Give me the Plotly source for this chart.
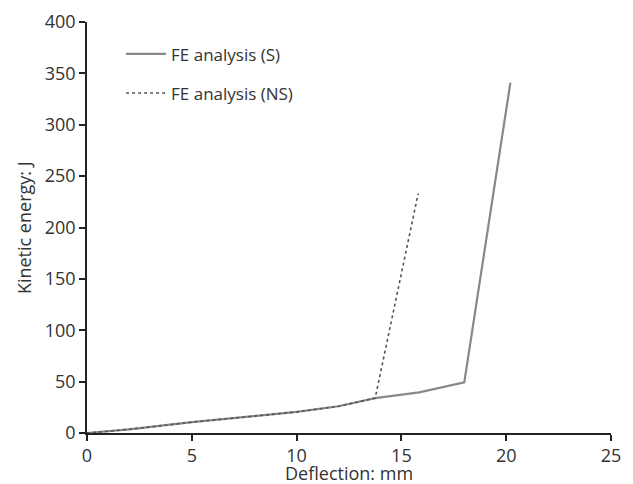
import plotly.graph_objects as go

s_x = [0, 2, 5, 10, 12, 13.75, 15.85, 18.0, 20.2]
s_y = [0, 3.5, 10.5, 20.5, 26, 34, 39.5, 49.3, 341]
ns_x = [0, 2, 5, 10, 12, 13.75, 15.8]
ns_y = [0, 3.5, 10.5, 20.5, 26, 34, 233]

x_ticks = [0, 5, 10, 15, 20, 25]
y_ticks = [0, 50, 100, 150, 200, 250, 300, 350, 400]

x_title = "Deflection: mm"
y_title = "Kinetic energy: J"

fig = go.Figure()
fig.add_trace(go.Scatter(x=s_x, y=s_y, mode="lines", name="FE analysis (S)",
                         line=dict(color="#888888", width=2.2),
                         legendgroup="a"))
fig.add_trace(go.Scatter(x=ns_x, y=ns_y, mode="lines", name="FE analysis (NS)",
                         line=dict(color="#555555", width=1.6, dash="dot"),
                         legendgroup="b"))

axis_common = dict(showgrid=False, zeroline=False, showline=True, linecolor="#222222",
                   linewidth=1.5, ticks="outside", ticklen=6, tickwidth=1.5,
                   tickcolor="#222222", tickfont=dict(size=18, color="#333333"),
                   automargin=False)

fig.update_layout(
    width=633, height=484,
    margin=dict(l=87, r=22, t=22, b=51),
    paper_bgcolor="white", plot_bgcolor="white",
    font=dict(family="Open Sans", color="#333333"),
    xaxis=dict(range=[0, 25], tickvals=x_ticks, **axis_common),
    yaxis=dict(range=[0, 400], tickvals=y_ticks, **axis_common),
    legend=dict(x=0.065, y=0.965, xanchor="left", yanchor="top",
                traceorder="grouped", tracegroupgap=14,
                font=dict(size=17, color="#333333"), bgcolor="rgba(0,0,0,0)",
                itemwidth=40),
    showlegend=True,
    annotations=[
        dict(text=x_title, xref="paper", yref="paper", x=0.5, y=-0.097,
             xanchor="center", yanchor="middle", showarrow=False,
             font=dict(size=18, color="#333333")),
        dict(text=y_title, xref="paper", yref="paper", x=-0.121, y=0.5,
             xanchor="center", yanchor="middle", showarrow=False, textangle=-90,
             font=dict(size=18, color="#333333")),
    ],
)

fig.write_html("out.html", post_script="document.body.style.margin='0';",
               config={"displayModeBar": False})
